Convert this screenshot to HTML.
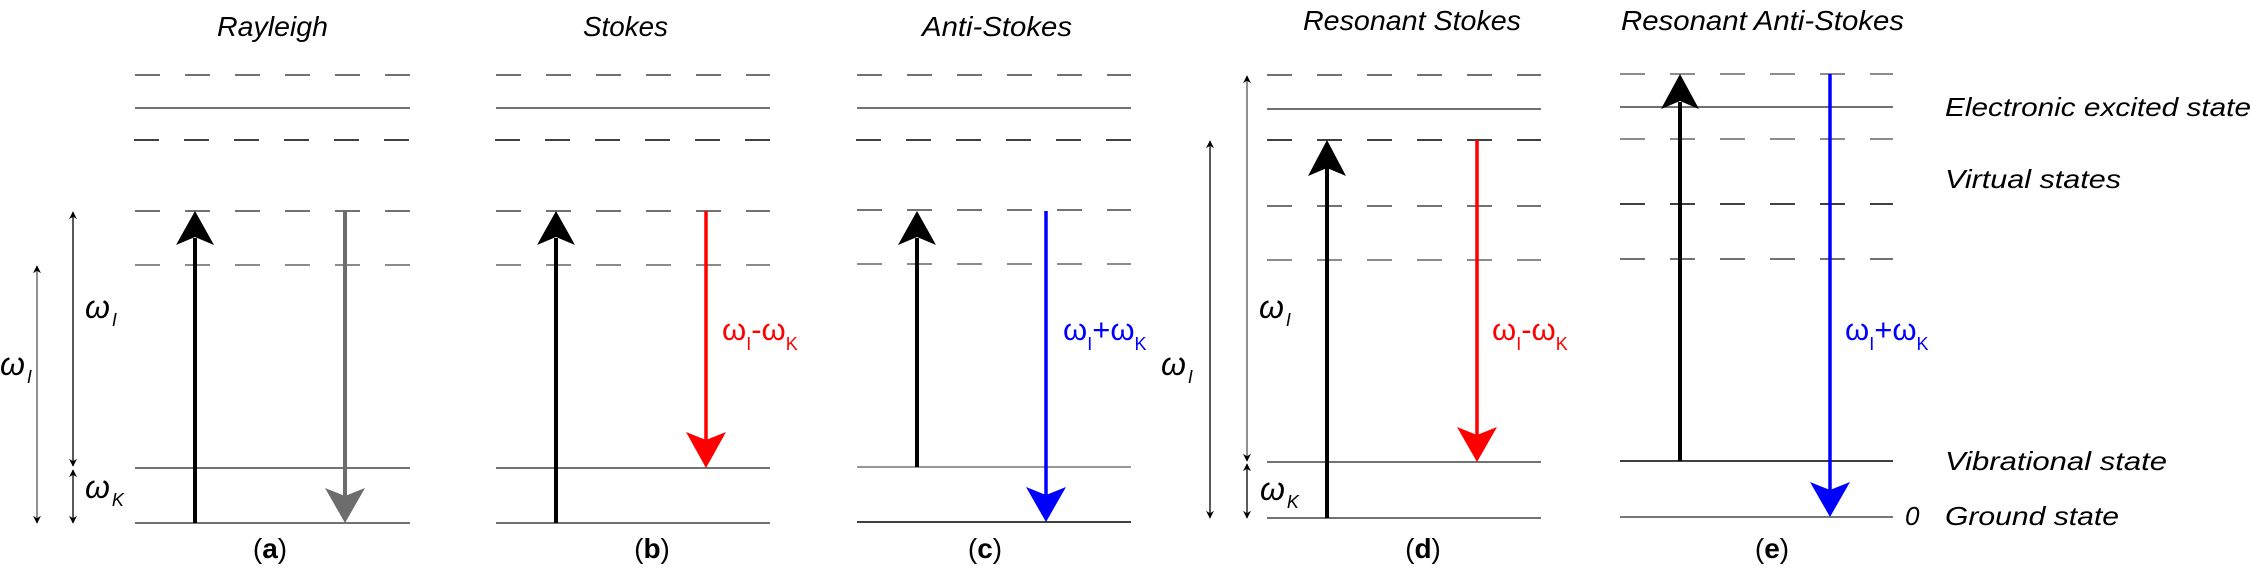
<!DOCTYPE html>
<html><head><meta charset="utf-8"><style>
html,body{margin:0;padding:0;background:#fff;}
svg{display:block;}
text{font-family:"Liberation Sans",sans-serif;}
.t{font-style:italic;font-size:28px;fill:#000;}
.lab{font-style:italic;font-size:26px;fill:#000;}
.p{font-size:28px;fill:#000;}
.w{font-style:italic;font-size:32px;}
.ws{font-style:italic;font-size:18px;}
.c{font-size:31px;}
.cs{font-size:18px;}
</style></head><body>
<svg width="2253" height="574" viewBox="0 0 2253 574" xmlns="http://www.w3.org/2000/svg">
<defs>
<marker id="sm" viewBox="0 0 10 10" refX="9" refY="5" markerWidth="8" markerHeight="8" orient="auto-start-reverse" markerUnits="userSpaceOnUse">
<path d="M0,0 L10,5 L0,10 L3,5 z" fill="#000"/></marker>
</defs>

<text class="t" x="217" y="36" textLength="111" lengthAdjust="spacingAndGlyphs">Rayleigh</text>
<text class="t" x="583" y="36" textLength="85" lengthAdjust="spacingAndGlyphs">Stokes</text>
<text class="t" x="922" y="36" textLength="150" lengthAdjust="spacingAndGlyphs">Anti-Stokes</text>
<text class="t" x="1303" y="30" textLength="218" lengthAdjust="spacingAndGlyphs">Resonant Stokes</text>
<text class="t" x="1621" y="30" textLength="283" lengthAdjust="spacingAndGlyphs">Resonant Anti-Stokes</text>

<!-- Panel a -->
<g stroke="#444" stroke-width="1.5" fill="none">
<line x1="135" y1="75" x2="410" y2="75" stroke-dasharray="25 25"/>
<line x1="135" y1="108" x2="410" y2="108"/>
<line x1="134" y1="140" x2="410" y2="140" stroke-dasharray="25 25" stroke="#000"/>
<line x1="135" y1="211" x2="410" y2="211" stroke-dasharray="25 25"/>
<line x1="135" y1="265" x2="410" y2="265" stroke-dasharray="25 25" stroke="#666"/>
<line x1="135" y1="468" x2="410" y2="468"/>
<line x1="135" y1="523" x2="410" y2="523"/>
</g>
<line x1="195" y1="523" x2="195" y2="238" stroke="#000" stroke-width="4"/>
<polygon points="195,211 214,245 195,237 176,245" fill="#000"/>
<line x1="345" y1="211" x2="345" y2="496" stroke="#6d6d6d" stroke-width="4"/>
<polygon points="345,523 365,488 345,496 325,488" fill="#6d6d6d"/>
<g stroke="#000" stroke-width="1.3">
<line x1="73" y1="212" x2="73" y2="466" marker-start="url(#sm)" marker-end="url(#sm)"/>
<line x1="73" y1="470" x2="73" y2="523" marker-start="url(#sm)" marker-end="url(#sm)"/>
<line x1="37" y1="266" x2="37" y2="523" marker-start="url(#sm)" marker-end="url(#sm)" stroke="#555"/>
</g>
<text x="85" y="318"><tspan class="w">ω</tspan><tspan class="ws" dx="2" dy="8">I</tspan></text>
<text x="0" y="375"><tspan class="w">ω</tspan><tspan class="ws" dx="2" dy="8">I</tspan></text>
<text x="85" y="498"><tspan class="w">ω</tspan><tspan class="ws" dx="2" dy="8">K</tspan></text>
<text class="p" x="270" y="558" text-anchor="middle">(<tspan font-weight="bold">a</tspan>)</text>

<!-- Panel b -->
<g stroke="#444" stroke-width="1.5" fill="none">
<line x1="496" y1="75" x2="770" y2="75" stroke-dasharray="25 25"/>
<line x1="496" y1="108" x2="770" y2="108"/>
<line x1="495" y1="140" x2="770" y2="140" stroke-dasharray="25 25" stroke="#000"/>
<line x1="496" y1="211" x2="770" y2="211" stroke-dasharray="25 25"/>
<line x1="496" y1="265" x2="770" y2="265" stroke-dasharray="25 25" stroke="#666"/>
<line x1="496" y1="468" x2="770" y2="468"/>
<line x1="496" y1="523" x2="770" y2="523"/>
</g>
<line x1="556" y1="523" x2="556" y2="238" stroke="#000" stroke-width="4"/>
<polygon points="556,211 575,245 556,237 537,245" fill="#000"/>
<line x1="706" y1="211" x2="706" y2="442" stroke="#ff0000" stroke-width="3.5"/>
<polygon points="706,468 726,432 706,440 686,432" fill="#ff0000"/>
<text x="722" y="340" fill="#ff0000"><tspan class="c">ω</tspan><tspan class="cs" dy="10">I</tspan><tspan class="c" dy="-10">-ω</tspan><tspan class="cs" dy="10">K</tspan></text>
<text class="p" x="652" y="558" text-anchor="middle">(<tspan font-weight="bold">b</tspan>)</text>

<!-- Panel c -->
<g stroke="#444" stroke-width="1.5" fill="none">
<line x1="857" y1="75" x2="1131" y2="75" stroke-dasharray="25 25"/>
<line x1="857" y1="108" x2="1131" y2="108"/>
<line x1="856" y1="140" x2="1131" y2="140" stroke-dasharray="25 25" stroke="#000"/>
<line x1="857" y1="210" x2="1131" y2="210" stroke-dasharray="25 25"/>
<line x1="857" y1="264" x2="1131" y2="264" stroke-dasharray="25 25" stroke="#666"/>
<line x1="857" y1="467" x2="1131" y2="467" stroke="#777"/>
<line x1="857" y1="522" x2="1131" y2="522" stroke="#000"/>
</g>
<line x1="917" y1="467" x2="917" y2="238" stroke="#000" stroke-width="4"/>
<polygon points="917,211 936,245 917,237 898,245" fill="#000"/>
<line x1="1046" y1="211" x2="1046" y2="496" stroke="#0000ff" stroke-width="3.5"/>
<polygon points="1046,522 1066,487 1046,495 1026,487" fill="#0000ff"/>
<text x="1063" y="340" fill="#0000ff"><tspan class="c">ω</tspan><tspan class="cs" dy="10">I</tspan><tspan class="c" dy="-10">+ω</tspan><tspan class="cs" dy="10">K</tspan></text>
<text class="p" x="985" y="558" text-anchor="middle">(<tspan font-weight="bold">c</tspan>)</text>

<!-- Panel d -->
<g stroke="#444" stroke-width="1.5" fill="none">
<line x1="1267" y1="75" x2="1541" y2="75" stroke-dasharray="25 25"/>
<line x1="1267" y1="109" x2="1541" y2="109"/>
<line x1="1267" y1="140" x2="1541" y2="140" stroke-dasharray="25 25" stroke="#000"/>
<line x1="1267" y1="206" x2="1541" y2="206" stroke-dasharray="25 25"/>
<line x1="1267" y1="260" x2="1541" y2="260" stroke-dasharray="25 25" stroke="#666"/>
<line x1="1267" y1="462" x2="1541" y2="462"/>
<line x1="1267" y1="518" x2="1541" y2="518"/>
</g>
<line x1="1327" y1="518" x2="1327" y2="168" stroke="#000" stroke-width="4"/>
<polygon points="1327,140 1346,176 1327,168 1308,176" fill="#000"/>
<line x1="1477" y1="140" x2="1477" y2="436" stroke="#ff0000" stroke-width="3.5"/>
<polygon points="1477,462 1497,427 1477,435 1457,427" fill="#ff0000"/>
<g stroke="#000" stroke-width="1.3">
<line x1="1247" y1="76" x2="1247" y2="461" marker-start="url(#sm)" marker-end="url(#sm)" stroke="#555"/>
<line x1="1247" y1="464" x2="1247" y2="518" marker-start="url(#sm)" marker-end="url(#sm)"/>
<line x1="1210" y1="141" x2="1210" y2="518" marker-start="url(#sm)" marker-end="url(#sm)"/>
</g>
<text x="1259" y="318"><tspan class="w">ω</tspan><tspan class="ws" dx="2" dy="8">I</tspan></text>
<text x="1161" y="375"><tspan class="w">ω</tspan><tspan class="ws" dx="2" dy="8">I</tspan></text>
<text x="1260" y="500"><tspan class="w">ω</tspan><tspan class="ws" dx="2" dy="8">K</tspan></text>
<text x="1492" y="340" fill="#ff0000"><tspan class="c">ω</tspan><tspan class="cs" dy="10">I</tspan><tspan class="c" dy="-10">-ω</tspan><tspan class="cs" dy="10">K</tspan></text>
<text class="p" x="1423" y="558" text-anchor="middle">(<tspan font-weight="bold">d</tspan>)</text>

<!-- Panel e -->
<g stroke="#444" stroke-width="1.5" fill="none">
<line x1="1620" y1="74" x2="1893" y2="74" stroke-dasharray="25 25" stroke="#666"/>
<line x1="1620" y1="107" x2="1893" y2="107"/>
<line x1="1620" y1="139" x2="1893" y2="139" stroke-dasharray="25 25" stroke="#666"/>
<line x1="1620" y1="204" x2="1893" y2="204" stroke-dasharray="25 25" stroke="#000"/>
<line x1="1620" y1="259" x2="1893" y2="259" stroke-dasharray="25 25"/>
<line x1="1620" y1="461" x2="1893" y2="461" stroke="#000"/>
<line x1="1620" y1="517" x2="1893" y2="517" stroke="#777" stroke-width="2"/>
</g>
<line x1="1680" y1="461" x2="1680" y2="102" stroke="#000" stroke-width="4"/>
<polygon points="1680,74 1699,109 1680,101 1661,109" fill="#000"/>
<line x1="1830" y1="74" x2="1830" y2="491" stroke="#0000ff" stroke-width="3.5"/>
<polygon points="1830,517 1850,482 1830,490 1810,482" fill="#0000ff"/>
<text x="1845" y="340" fill="#0000ff"><tspan class="c">ω</tspan><tspan class="cs" dy="10">I</tspan><tspan class="c" dy="-10">+ω</tspan><tspan class="cs" dy="10">K</tspan></text>
<text class="p" x="1772" y="558" text-anchor="middle">(<tspan font-weight="bold">e</tspan>)</text>
<text class="lab" x="1905" y="525">0</text>

<text class="lab" x="1945" y="116" textLength="306" lengthAdjust="spacingAndGlyphs">Electronic excited state</text>
<text class="lab" x="1945" y="188" textLength="176" lengthAdjust="spacingAndGlyphs">Virtual states</text>
<text class="lab" x="1945" y="470" textLength="222" lengthAdjust="spacingAndGlyphs">Vibrational state</text>
<text class="lab" x="1945" y="525" textLength="174" lengthAdjust="spacingAndGlyphs">Ground state</text>
</svg>
</body></html>
